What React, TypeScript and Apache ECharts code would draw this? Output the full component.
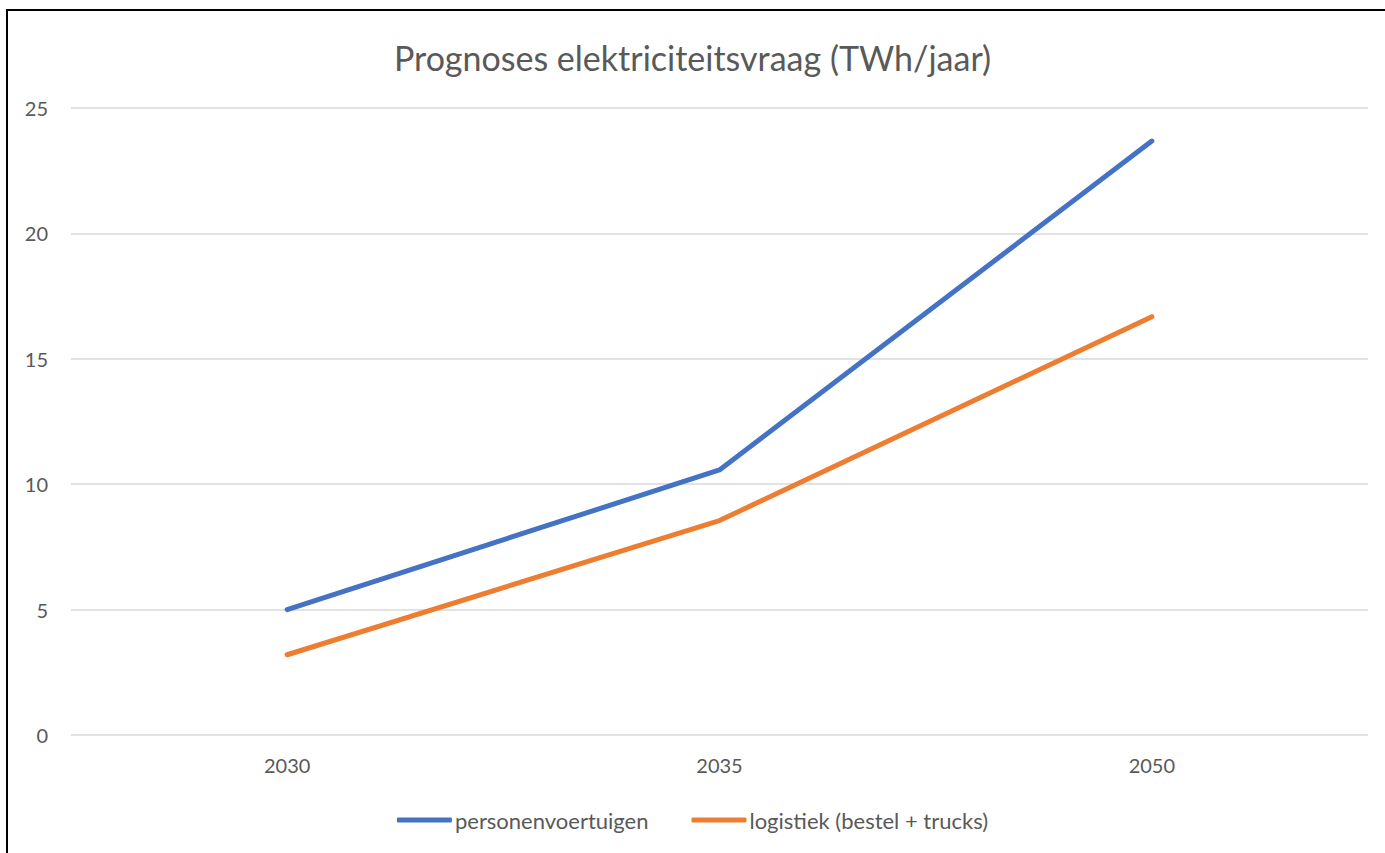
import React, { useEffect, useRef } from "react";
import * as echarts from "echarts";

const categories = ["2030", "2035", "2050"];
const personen = [5.0, 10.57, 23.68];
const logistiek = [3.2, 8.55, 16.68];
const seriesNames = ["personenvoertuigen", "logistiek (bestel + trucks)"];
const titleText = "Prognoses elektriciteitsvraag (TWh/jaar)";

export default function App() {
  const ref = useRef<HTMLDivElement>(null);
  useEffect(() => {
    if (!ref.current) return;
    const chart = echarts.init(ref.current, undefined, { renderer: "svg" });
    const font = "Lato, 'Open Sans', sans-serif";
    chart.setOption({
      animation: false,
      backgroundColor: "#ffffff",
      title: {
        text: titleText,
        left: "center",
        top: 35,
        textStyle: { fontFamily: font, fontSize: 34, fontWeight: "normal", color: "#595959" },
      },
      graphic: [
        {
          type: "rect",
          shape: { x: 7, y: 10, width: 1420, height: 900 },
          style: { fill: "none", stroke: "#000000", lineWidth: 2 },
          silent: true,
          z: 100,
        },
      ],
      grid: { left: 71, right: 17, top: 108, bottom: 118, containLabel: false },
      legend: {
        data: seriesNames,
        bottom: 17,
        left: "center",
        icon: "roundRect",
        itemWidth: 55,
        itemHeight: 5,
        itemGap: 43,
        textStyle: { fontFamily: font, fontSize: 22, color: "#595959", padding: [0, 0, 0, -2] },
      },
      xAxis: {
        type: "category",
        data: categories,
        boundaryGap: true,
        axisLine: { show: false },
        axisTick: { show: false },
        axisLabel: { fontFamily: font, fontSize: 20, color: "#595959", margin: 20 },
      },
      yAxis: {
        type: "value",
        min: 0,
        max: 25,
        interval: 5,
        axisLine: { show: false },
        axisTick: { show: false },
        axisLabel: { fontFamily: font, fontSize: 20, color: "#595959", margin: 23 },
        splitLine: { lineStyle: { color: "#d9d9d9", width: 1.5 } },
      },
      series: [
        {
          name: seriesNames[0],
          type: "line",
          data: personen,
          symbol: "none",
          lineStyle: { color: "#4472C4", width: 5, cap: "round", join: "round" },
          itemStyle: { color: "#4472C4" },
        },
        {
          name: seriesNames[1],
          type: "line",
          data: logistiek,
          symbol: "none",
          lineStyle: { color: "#ED7D31", width: 5, cap: "round", join: "round" },
          itemStyle: { color: "#ED7D31" },
        },
      ],
    });
    return () => chart.dispose();
  }, []);
  return (
    <div
      ref={ref}
      style={{ position: "fixed", left: 0, top: 0, width: 1385, height: 853 }}
    />
  );
}
